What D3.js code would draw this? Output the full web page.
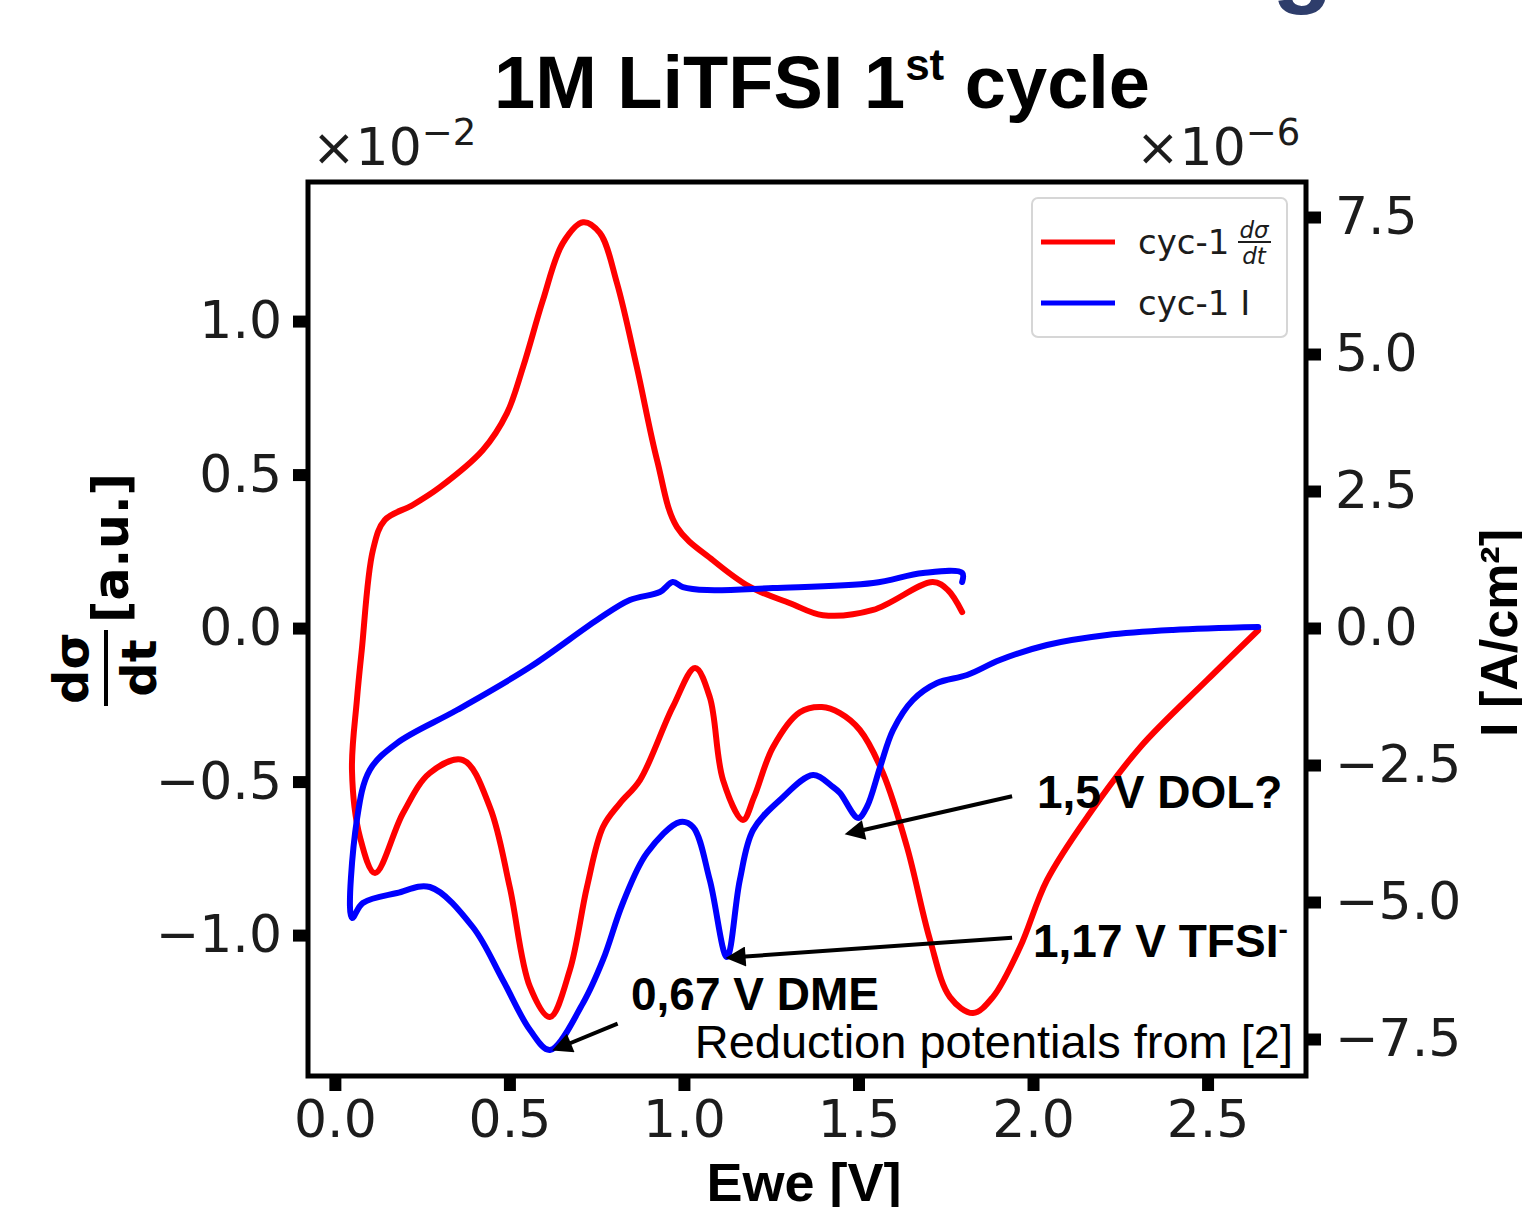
<!DOCTYPE html>
<html>
<head>
<meta charset="utf-8">
<script src="https://cdn.jsdelivr.net/npm/d3@7"></script>
<style>
  body { margin: 0; background: #fff; }
  svg { display: block; }
  .tick text { font-family: "DejaVu Sans", sans-serif; fill: #1c1c1c; }
</style>
</head>
<body>
<div id="chart"></div>
<script>
// values: [Ewe (V), value]
// dσ/dt in units of 1e-2, I in units of 1e-6 A/cm²
var redCurve = [
  [2.645, -0.007], [2.499, -0.169], [2.307, -0.388], [2.163, -0.603], [2.040, -0.821],
  [1.963, -1.039], [1.885, -1.202], [1.828, -1.254], [1.762, -1.202], [1.705, -1.016],
  [1.639, -0.713], [1.570, -0.472], [1.504, -0.332], [1.447, -0.277], [1.395, -0.257],
  [1.332, -0.274], [1.255, -0.388], [1.201, -0.550], [1.169, -0.625], [1.112, -0.495],
  [1.074, -0.225], [1.032, -0.130], [0.968, -0.257], [0.874, -0.495], [0.817, -0.570],
  [0.768, -0.648], [0.722, -0.844], [0.673, -1.114], [0.616, -1.267], [0.559, -1.169],
  [0.501, -0.844], [0.444, -0.583], [0.367, -0.430], [0.272, -0.472], [0.195, -0.603],
  [0.115, -0.798], [0.072, -0.681], [0.049, -0.463], [0.063, -0.235], [0.077, -0.072],
  [0.109, 0.254], [0.143, 0.352], [0.223, 0.401], [0.301, 0.459], [0.424, 0.580],
  [0.493, 0.700], [0.539, 0.850], [0.596, 1.068], [0.653, 1.254], [0.711, 1.322],
  [0.759, 1.287], [0.808, 1.124], [0.865, 0.850], [0.923, 0.547], [0.980, 0.329],
  [1.083, 0.221], [1.189, 0.134], [1.304, 0.081], [1.398, 0.042], [1.542, 0.059],
  [1.713, 0.150], [1.756, 0.124], [1.797, 0.052]
];

var blueCurve = [
  [2.645, 0.018], [2.401, -0.036], [2.212, -0.128], [2.040, -0.310], [1.905, -0.584],
  [1.811, -0.858], [1.725, -1.004], [1.656, -1.314], [1.599, -1.861], [1.562, -2.536],
  [1.524, -3.266], [1.499, -3.467], [1.447, -3.011], [1.427, -2.901], [1.370, -2.682],
  [1.275, -3.139], [1.198, -3.686], [1.160, -4.599], [1.123, -6.004], [1.074, -4.599],
  [1.026, -3.631], [0.989, -3.540], [0.894, -4.106], [0.825, -5.018], [0.768, -6.058],
  [0.711, -6.843], [0.616, -7.701], [0.559, -7.336], [0.481, -6.423], [0.395, -5.456],
  [0.272, -4.726], [0.178, -4.836], [0.080, -5.018], [0.049, -5.292], [0.063, -3.504],
  [0.100, -2.591], [0.178, -2.099], [0.350, -1.496], [0.559, -0.712], [0.751, 0.146],
  [0.845, 0.511], [0.931, 0.657], [0.968, 0.839], [0.997, 0.748], [1.066, 0.693],
  [1.255, 0.730], [1.542, 0.821], [1.685, 1.004], [1.797, 1.004], [1.797, 0.839]
];

var xTicks = [0.0, 0.5, 1.0, 1.5, 2.0, 2.5];
var leftTicks = [-1.0, -0.5, 0.0, 0.5, 1.0];
var rightTicks = [-7.5, -5.0, -2.5, 0.0, 2.5, 5.0, 7.5];

var annotations = [
  { text: "1,5 V DOL?", at: [1.505, -3.7], from: [1.94, -3.07], tx: 1037, ty: 808 },
  { text: "1,17 V TFSI", sup: "-", at: [1.165, -6.0], from: [1.94, -5.65], tx: 1033, ty: 957 },
  { text: "0,67 V DME", at: [0.665, -7.6], from: [0.81, -7.22], tx: 631, ty: 1010 }
];

var W = 1522, H = 1207;
var frame = { left: 308, right: 1306, top: 182, bottom: 1076 };

var svg = d3.select("#chart").append("svg")
  .attr("width", W).attr("height", H);

var x = d3.scaleLinear().domain([-0.077, 2.782]).range([frame.left, frame.right]);
var yL = d3.scaleLinear().domain([-1.459, 1.453]).range([frame.bottom, frame.top]);
var yR = d3.scaleLinear().domain([-8.175, 8.139]).range([frame.bottom, frame.top]);

var fmt = d3.format(".1f");

// axes, thick square ticks like the original
function styleAxis(g) {
  g.select(".domain").remove();
  g.selectAll(".tick line").attr("stroke", "#000").attr("stroke-width", 12);
  g.selectAll(".tick text").style("font-size", "52px");
}

svg.append("g")
  .attr("transform", "translate(0," + (frame.bottom + 2) + ")")
  .call(d3.axisBottom(x).tickValues(xTicks).tickFormat(fmt).tickSize(13).tickPadding(9))
  .call(styleAxis);

svg.append("g")
  .attr("transform", "translate(" + (frame.left - 2) + ",0)")
  .call(d3.axisLeft(yL).tickValues(leftTicks).tickFormat(fmt).tickSize(13).tickPadding(11))
  .call(styleAxis);

svg.append("g")
  .attr("transform", "translate(" + (frame.right + 2) + ",0)")
  .call(d3.axisRight(yR).tickValues(rightTicks).tickFormat(fmt).tickSize(13).tickPadding(14))
  .call(styleAxis);

// curves
var lineL = d3.line().x(function (d) { return x(d[0]); }).y(function (d) { return yL(d[1]); })
  .curve(d3.curveCatmullRom.alpha(0.5));
var lineR = d3.line().x(function (d) { return x(d[0]); }).y(function (d) { return yR(d[1]); })
  .curve(d3.curveCatmullRom.alpha(0.5));

svg.append("path").datum(redCurve)
  .attr("d", lineL).attr("fill", "none").attr("stroke", "#ff0000")
  .attr("stroke-width", 6).attr("stroke-linejoin", "round").attr("stroke-linecap", "round");

svg.append("path").datum(blueCurve)
  .attr("d", lineR).attr("fill", "none").attr("stroke", "#0000ff")
  .attr("stroke-width", 6).attr("stroke-linejoin", "round").attr("stroke-linecap", "round");

// frame
svg.append("rect")
  .attr("x", frame.left).attr("y", frame.top)
  .attr("width", frame.right - frame.left).attr("height", frame.bottom - frame.top)
  .attr("fill", "none").attr("stroke", "#000").attr("stroke-width", 5);

// offset texts
function offsetText(xp, exp) {
  var t = svg.append("text").attr("x", xp).attr("y", 165)
    .style("font-family", "DejaVu Sans, sans-serif").style("font-size", "52px").attr("fill", "#1c1c1c");
  t.append("tspan").text("\u00d710");
  t.append("tspan").attr("dy", -20).style("font-size", "37px").text(exp);
}
offsetText(312, "\u22122");
offsetText(1136, "\u22126");

// title
var title = svg.append("text").attr("x", 822).attr("y", 108).attr("text-anchor", "middle")
  .style("font-family", "Liberation Sans, Arial, sans-serif").style("font-weight", "bold")
  .style("font-size", "74px").attr("fill", "#000");
title.append("tspan").text("1M LiTFSI 1");
title.append("tspan").attr("dy", -28).style("font-size", "44px").text("st");
title.append("tspan").attr("dy", 28).text(" cycle");

// x label
svg.append("text").attr("x", 804).attr("y", 1201).attr("text-anchor", "middle")
  .style("font-family", "Liberation Sans, Arial, sans-serif").style("font-weight", "bold")
  .style("font-size", "54px").text("Ewe [V]");

// left y label (fraction + units)
var yl = svg.append("g").attr("transform", "translate(112,668) rotate(-90)")
  .style("font-family", "DejaVu Sans, sans-serif").style("font-weight", "bold");
yl.append("text").attr("x", 0).attr("y", -24).attr("text-anchor", "middle").style("font-size", "48px").text("d\u03c3");
yl.append("line").attr("x1", -38).attr("x2", 38).attr("y1", -6).attr("y2", -6)
  .attr("stroke", "#000").attr("stroke-width", 4);
yl.append("text").attr("x", 0).attr("y", 44).attr("text-anchor", "middle").style("font-size", "48px").text("dt");
yl.append("text").attr("x", 45).attr("y", 16).style("font-size", "49px").text("[a.u.]");

// right y label
svg.append("text").attr("transform", "translate(1517,633) rotate(-90)").attr("text-anchor", "middle")
  .style("font-family", "Liberation Sans, Arial, sans-serif").style("font-weight", "bold")
  .style("font-size", "52px").text("I [A/cm\u00b2]");

// legend
var lg = svg.append("g").attr("transform", "translate(1032,198)");
lg.append("rect").attr("width", 255).attr("height", 139).attr("rx", 6)
  .attr("fill", "#fff").attr("stroke", "#d6d6d6").attr("stroke-width", 2);
var legendItems = [{ color: "#ff0000", y: 44, label: "cyc-1 ", frac: true }, { color: "#0000ff", y: 105, label: "cyc-1 I" }];
legendItems.forEach(function (d) {
  lg.append("line").attr("x1", 9).attr("x2", 83).attr("y1", d.y).attr("y2", d.y)
    .attr("stroke", d.color).attr("stroke-width", 5);
  lg.append("text").attr("x", 106).attr("y", d.y + 12)
    .style("font-family", "DejaVu Sans, sans-serif").style("font-size", "34px").attr("fill", "#1c1c1c")
    .text(d.label);
  if (d.frac) {
    lg.append("text").attr("x", 222).attr("y", d.y - 4).attr("text-anchor", "middle")
      .style("font-family", "DejaVu Sans, sans-serif").style("font-style", "italic").style("font-size", "23px")
      .attr("fill", "#1c1c1c").text("d\u03c3");
    lg.append("line").attr("x1", 206).attr("x2", 239).attr("y1", d.y).attr("y2", d.y)
      .attr("stroke", "#1c1c1c").attr("stroke-width", 1.8);
    lg.append("text").attr("x", 222).attr("y", d.y + 22).attr("text-anchor", "middle")
      .style("font-family", "DejaVu Sans, sans-serif").style("font-style", "italic").style("font-size", "23px")
      .attr("fill", "#1c1c1c").text("dt");
  }
});

// annotations with arrows
var defs = svg.append("defs");
defs.append("marker").attr("id", "arrow").attr("viewBox", "0 0 10 10")
  .attr("refX", 2).attr("refY", 5).attr("markerWidth", 5.5).attr("markerHeight", 5)
  .attr("orient", "auto-start-reverse")
  .append("path").attr("d", "M0,0 L10,5 L0,10 z").attr("fill", "#000");

annotations.forEach(function (a) {
  svg.append("line")
    .attr("x1", x(a.from[0])).attr("y1", yR(a.from[1]))
    .attr("x2", x(a.at[0])).attr("y2", yR(a.at[1]))
    .attr("stroke", "#000").attr("stroke-width", 4)
    .attr("marker-end", "url(#arrow)");
  var t = svg.append("text").attr("x", a.tx).attr("y", a.ty)
    .style("font-family", "Liberation Sans, Arial, sans-serif").style("font-weight", "bold")
    .style("font-size", "46px").text(a.text);
  if (a.sup) t.append("tspan").attr("dy", -18).style("font-size", "28px").text(a.sup);
});

svg.append("text").attr("x", 1293).attr("y", 1058).attr("text-anchor", "end")
  .style("font-family", "Liberation Sans, Arial, sans-serif")
  .style("font-size", "47px").text("Reduction potentials from [2]");

// clipped slide glyph at top-right corner
svg.append("text").attr("x", 1272).attr("y", -6)
  .style("font-family", "Liberation Sans, Arial, sans-serif").style("font-weight", "bold")
  .style("font-size", "100px").attr("fill", "#2e3d6b").text("g");
</script>
</body>
</html>
